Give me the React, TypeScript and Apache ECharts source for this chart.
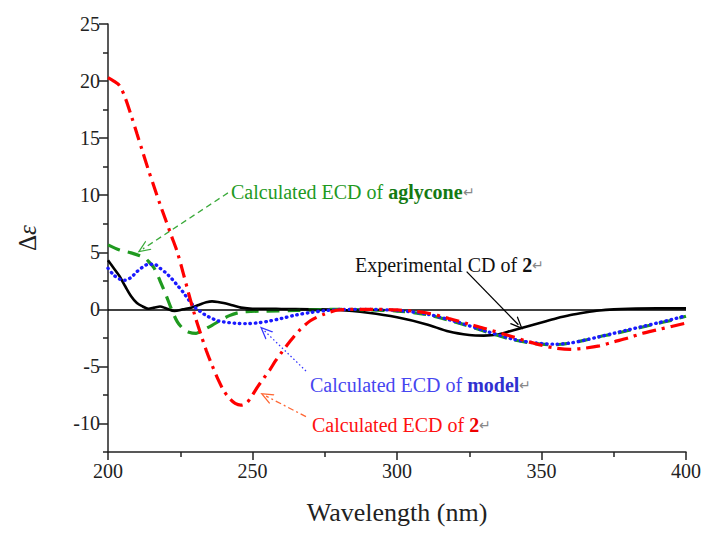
import React, { useEffect, useRef } from "react";
import * as echarts from "echarts";

// Experimental CD of 2
const expX = [200, 202, 204, 206, 208, 210, 212, 214, 216, 218, 220, 223, 226, 228, 230, 232, 234, 236, 238, 240, 243, 246, 250, 255, 260, 270, 280, 290, 300, 310, 318, 325, 330, 335, 340, 345, 350, 355, 360, 365, 370, 375, 380, 390, 400];
const expY = [4.3, 3.6, 2.9, 2.0, 1.15, 0.55, 0.25, 0.05, 0.15, 0.25, 0.1, -0.15, 0.0, 0.1, 0.25, 0.45, 0.62, 0.7, 0.65, 0.55, 0.35, 0.15, 0.05, 0.05, 0.03, 0.0, -0.05, -0.3, -0.7, -1.3, -1.95, -2.25, -2.3, -2.2, -1.85, -1.5, -1.15, -0.8, -0.5, -0.28, -0.1, 0.0, 0.05, 0.08, 0.08];

// Calculated ECD of model
const modelX = [200, 202, 204, 206, 208, 210, 212, 214, 216, 218, 220, 222, 224, 226, 228, 230, 232, 234, 236, 238, 240, 244, 248, 252, 256, 260, 265, 270, 275, 280, 290, 300, 310, 320, 330, 340, 345, 350, 355, 360, 365, 370, 375, 380, 385, 390, 395, 400];
const modelY = [3.6, 3.0, 2.65, 2.55, 2.8, 3.3, 3.7, 3.95, 3.95, 3.6, 3.2, 2.7, 2.1, 1.5, 0.8, 0.2, -0.2, -0.55, -0.8, -1.0, -1.1, -1.22, -1.25, -1.18, -1.02, -0.8, -0.5, -0.28, -0.12, -0.02, 0.0, -0.1, -0.4, -1.05, -1.85, -2.6, -2.85, -3.0, -3.05, -2.95, -2.7, -2.4, -2.1, -1.8, -1.5, -1.2, -0.9, -0.55];

// Calculated ECD of aglycone
const aglyX = [200, 204, 208, 211, 213, 214, 216, 218, 220, 222, 224, 226, 228, 230.5, 233, 236, 239, 242, 245, 248, 255, 265, 280, 290, 300, 310, 320, 330, 335, 340, 345, 350, 355, 360, 365, 370, 375, 380, 385, 390, 395, 400];
const aglyY = [5.65, 5.2, 4.95, 4.7, 4.45, 4.2, 3.6, 2.5, 1.3, 0.0, -1.1, -1.7, -2.0, -2.1, -1.8, -1.4, -0.95, -0.55, -0.3, -0.2, -0.15, -0.1, 0.0, -0.05, -0.15, -0.45, -1.1, -1.9, -2.3, -2.65, -2.9, -3.05, -3.1, -2.95, -2.7, -2.4, -2.15, -1.85, -1.55, -1.25, -0.95, -0.6];

// Calculated ECD of 2
const calcX = [200, 202, 204, 206, 208, 210, 212, 214, 216, 218, 220, 222, 224, 226, 228, 230, 232, 234, 236, 238, 240, 242, 244, 246, 248, 250, 252, 254, 256, 258, 260, 263, 266, 270, 275, 280, 290, 300, 310, 318, 325, 330, 340, 345, 350, 355, 360, 365, 370, 375, 380, 385, 390, 395, 400];
const calcY = [20.3, 20.0, 19.6, 18.5, 17.0, 15.4, 13.8, 12.2, 10.7, 9.2, 7.8, 6.4, 5.0, 3.2, 1.3, -0.5, -2.1, -3.6, -4.9, -6.1, -7.1, -7.8, -8.25, -8.4, -8.2, -7.5, -6.7, -6.0, -5.3, -4.5, -3.8, -2.8, -1.9, -1.0, -0.4, -0.05, 0.0, -0.05, -0.3, -0.8, -1.3, -1.65, -2.4, -2.8, -3.15, -3.4, -3.5, -3.4, -3.2, -2.85, -2.5, -2.1, -1.8, -1.5, -1.2];

const yMajorTicks = [-10, -5, 0, 5, 10, 15, 20, 25];
const yMinorTicks = [-12.5, -7.5, -2.5, 2.5, 7.5, 12.5, 17.5, 22.5];

const FONT = "'Liberation Serif', 'Times New Roman', serif";
const chevron = "path://M0,0 L10,20 L7.5,20 L0,5 L-7.5,20 L-10,20 Z";

const zip = (xs: number[], ys: number[]) => xs.map((x, i) => [x, ys[i]]);

export default function App() {
  const ref = useRef<HTMLDivElement>(null);
  useEffect(() => {
    if (!ref.current) return;
    document.body.style.margin = "0";
    const chart = echarts.init(ref.current, undefined, { renderer: "svg" });
    const arrow = (from: number[], to: number[], color: string, type: any, width = 1.3) => [
      { coord: from, lineStyle: { color, type, width } },
      { coord: to },
    ];
    chart.setOption({
      animation: false,
      backgroundColor: "#ffffff",
      grid: { left: 108, right: 21, top: 24, bottom: 81 },
      xAxis: {
        type: "value",
        min: 200,
        max: 400,
        interval: 50,
        name: "Wavelength (nm)",
        nameLocation: "middle",
        nameGap: 47,
        nameTextStyle: { fontFamily: FONT, fontSize: 26, color: "#222" },
        axisLine: { onZero: false, lineStyle: { color: "#222", width: 1.5 } },
        axisTick: { length: 8, lineStyle: { color: "#222", width: 1.5 } },
        minorTick: { show: true, splitNumber: 2, length: 5, lineStyle: { color: "#222", width: 1.5 } },
        axisLabel: { fontFamily: FONT, fontSize: 20, color: "#222", margin: 9 },
        splitLine: { show: false },
      },
      yAxis: [
        {
          type: "value",
          min: -12.5,
          max: 25,
          name: "Δ{i|ε}",
          nameLocation: "middle",
          nameRotate: 90,
          nameGap: 68,
          nameTextStyle: {
            fontFamily: FONT,
            fontSize: 25,
            color: "#222",
            rich: { i: { fontFamily: FONT, fontSize: 25, fontStyle: "italic", color: "#222" } },
          },
          axisLine: { show: true, lineStyle: { color: "#222", width: 1.5 } },
          axisTick: { show: true, length: 9, customValues: yMajorTicks, lineStyle: { color: "#222", width: 1.5 } },
          axisLabel: { fontFamily: FONT, fontSize: 20, color: "#222", margin: 8, customValues: yMajorTicks },
          splitLine: { show: false },
        },
        {
          type: "value",
          min: -12.5,
          max: 25,
          position: "left",
          axisLine: { show: false },
          axisTick: { show: true, length: 5, customValues: yMinorTicks, lineStyle: { color: "#222", width: 1.5 } },
          axisLabel: { show: false },
          splitLine: { show: false },
        },
      ],
      series: [
        {
          name: "Experimental CD of 2",
          type: "line",
          data: zip(expX, expY),
          smooth: 0.3,
          showSymbol: false,
          lineStyle: { color: "#000", width: 2.6 },
          z: 3,
          markLine: {
            silent: true,
            symbol: "none",
            label: { show: false },
            lineStyle: { color: "#000", type: "solid", width: 1.5 },
            data: [{ yAxis: 0 }],
          },
        },
        {
          name: "Calculated ECD of aglycone",
          type: "line",
          data: zip(aglyX, aglyY),
          smooth: 0.3,
          showSymbol: false,
          lineStyle: { color: "#1f9a1f", width: 3.2, type: [13, 8] },
          z: 4,
        },
        {
          name: "Calculated ECD of model",
          type: "line",
          data: zip(modelX, modelY),
          smooth: 0.3,
          showSymbol: false,
          lineStyle: { color: "#1a1aff", width: 3.4, type: [0.5, 4.8], cap: "round" },
          z: 5,
        },
        {
          name: "Calculated ECD of 2",
          type: "line",
          data: zip(calcX, calcY),
          smooth: 0.3,
          showSymbol: false,
          lineStyle: { color: "#ff0000", width: 3.2, type: [14, 6, 3, 6] },
          z: 6,
          markLine: {
            silent: true,
            symbol: ["none", chevron],
            symbolSize: [11, 13],
            label: { show: false },
            data: [
              arrow([241.5, 10.2], [212.1, 5.3], "#3aaa3a", [6, 4]),
              arrow([324.1, 3.3], [342.0, -1.35], "#000", "solid"),
              arrow([268.5, -5.4], [254.2, -1.9], "#3333ff", [1.5, 2.5]),
              arrow([268.5, -9.4], [254.7, -7.6], "#ff6633", [6, 3, 2, 3]),
            ],
          },
        },
      ],
      graphic: [
        {
          type: "text",
          left: 231,
          top: 182,
          style: {
            text: "{n|Calculated ECD of }{b|aglycone}{r|↵}",
            rich: {
              n: { fontFamily: FONT, fontSize: 20, fill: "#1e9a1e" },
              b: { fontFamily: FONT, fontSize: 20, fontWeight: "bold", fill: "#137a13" },
              r: { fontFamily: FONT, fontSize: 14, fill: "#888" },
            },
          },
        },
        {
          type: "text",
          left: 355,
          top: 255,
          style: {
            text: "{n|Experimental CD of }{b|2}{r|↵}",
            rich: {
              n: { fontFamily: FONT, fontSize: 20, fill: "#111" },
              b: { fontFamily: FONT, fontSize: 20, fontWeight: "bold", fill: "#111" },
              r: { fontFamily: FONT, fontSize: 14, fill: "#888" },
            },
          },
        },
        {
          type: "text",
          left: 310,
          top: 375,
          style: {
            text: "{n|Calculated ECD of }{b|model}{r|↵}",
            rich: {
              n: { fontFamily: FONT, fontSize: 20, fill: "#4646f0" },
              b: { fontFamily: FONT, fontSize: 20, fontWeight: "bold", fill: "#3030d0" },
              r: { fontFamily: FONT, fontSize: 14, fill: "#888" },
            },
          },
        },
        {
          type: "text",
          left: 312,
          top: 415,
          style: {
            text: "{n|Calculated ECD of }{b|2}{r|↵}",
            rich: {
              n: { fontFamily: FONT, fontSize: 20, fill: "#ff1010" },
              b: { fontFamily: FONT, fontSize: 20, fontWeight: "bold", fill: "#ee0000" },
              r: { fontFamily: FONT, fontSize: 14, fill: "#888" },
            },
          },
        },
      ],
    });
    return () => chart.dispose();
  }, []);
  return <div ref={ref} style={{ width: 707, height: 533 }} />;
}
